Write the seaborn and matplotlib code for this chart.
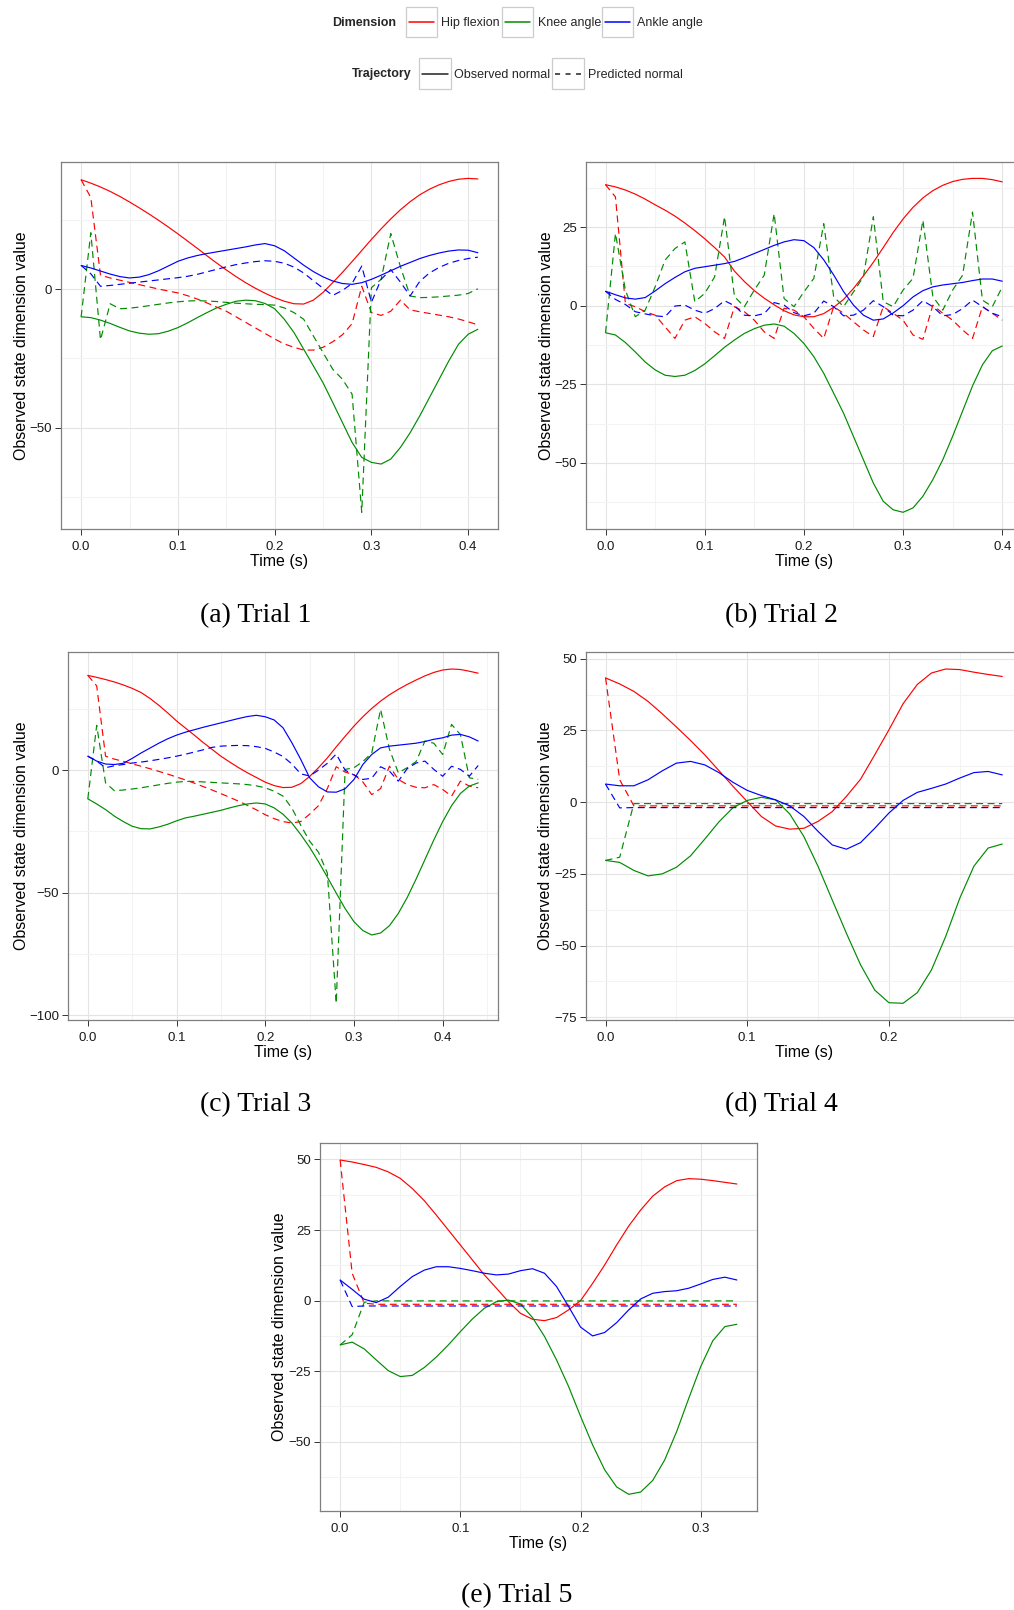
import matplotlib
matplotlib.use("Agg")
import matplotlib.pyplot as plt
from matplotlib.ticker import MultipleLocator, FormatStrFormatter
from matplotlib.patches import Rectangle
from matplotlib.lines import Line2D
import pandas as pd
import seaborn as sns

# ---------------------------------------------------------------------------
# Joint-angle trajectories (degrees), sampled every 10 ms
# ---------------------------------------------------------------------------
SAMPLE_DT = 0.01

# Trial 1
hip_obs_1 = [39.4, 38.2, 36.8, 35.2, 33.4, 31.4, 29.3, 27.1, 24.8, 22.4, 19.9, 17.3, 14.7, 12.0,
             9.4, 6.9, 4.5, 2.3, 0.3, -1.5, -3.1, -4.4, -5.3, -5.4, -4.0, -1.2, 2.3, 6.0, 9.9,
             13.9, 17.9, 21.7, 25.3, 28.6, 31.5, 34.0, 36.0, 37.6, 38.8, 39.6, 39.9, 39.7]
hip_pred_1 = [39.4, 33.0, 5.0, 4.0, 3.2, 2.4, 1.6, 0.8, 0.0, -0.7, -1.4, -2.4, -3.6, -5.0, -6.5,
              -8.0, -10.0, -12.0, -14.0, -16.0, -18.0, -19.8, -21.0, -22.0, -22.0, -21.0, -19.0,
              -16.5, -12.5, 1.0, -8.5, -9.5, -8.0, -4.0, -7.5, -8.2, -8.8, -9.4, -10.0, -10.8,
              -11.8, -12.9]
knee_obs_1 = [-10.0, -10.3, -11.2, -12.4, -13.8, -15.1, -15.9, -16.3, -16.1, -15.2, -13.9, -12.2,
              -10.3, -8.5, -6.8, -5.5, -4.4, -4.0, -4.2, -5.2, -7.1, -10.9, -15.7, -21.7, -27.7,
              -33.8, -40.9, -48.1, -55.3, -60.7, -62.5, -63.1, -61.3, -57.1, -51.8, -45.7, -39.1,
              -32.5, -25.9, -19.9, -16.3, -14.5]
knee_pred_1 = [-10.0, 20.3, -18.3, -5.3, -7.1, -6.9, -6.5, -6.0, -5.5, -5.0, -4.6, -4.3, -4.2, -4.3,
               -4.5, -4.8, -5.1, -5.3, -5.5, -5.6, -5.8, -6.8, -8.5, -10.9, -16.9, -22.9, -28.9,
               -32.5, -37.9, -80.5, 0.5, 3.5, 20.0, 8.0, -2.5, -3.1, -3.0, -2.8, -2.5, -2.2, -1.6, 0.1]
ankle_obs_1 = [8.5, 7.6, 6.5, 5.4, 4.5, 4.0, 4.3, 5.2, 6.6, 8.3, 10.0, 11.2, 12.1, 12.8, 13.4, 14.0,
               14.6, 15.2, 15.9, 16.4, 15.6, 13.8, 11.2, 8.6, 6.3, 4.4, 2.9, 2.0, 1.7, 2.3, 3.5, 5.0,
               6.6, 8.2, 9.6, 11.0, 12.1, 13.0, 13.7, 14.1, 14.0, 13.1]
ankle_pred_1 = [8.5, 5.5, 1.0, 1.3, 1.7, 2.1, 2.5, 2.9, 3.3, 3.7, 4.1, 4.6, 5.3, 6.2, 7.1, 8.0, 8.8,
                9.4, 9.9, 10.2, 10.0, 9.3, 7.9, 5.8, 3.0, 0.3, -2.3, -0.5, 2.0, 8.3, -4.8, 3.5, 7.0,
                2.5, -2.5, 2.8, 5.8, 7.8, 9.3, 10.3, 11.0, 11.5]

# Trial 2
hip_obs_2 = [38.5, 37.8, 36.8, 35.5, 33.9, 32.1, 30.4, 28.5, 26.3, 23.9, 21.3, 18.5, 15.5, 11.0,
             7.7, 4.8, 2.4, 0.3, -1.6, -2.9, -3.5, -3.5, -2.5, -0.5, 2.0, 5.5, 9.5, 13.8, 18.5,
             23.3, 27.6, 31.3, 34.3, 36.6, 38.3, 39.5, 40.2, 40.5, 40.5, 40.1, 39.4]
hip_pred_2 = [38.5, 34.6, 0.7, -0.3, -1.9, -3.0, -6.7, -10.4, -4.6, -3.5, -5.6, -8.3, -10.4, -0.3,
              -1.9, -4.6, -8.3, -10.4, -0.8, -1.4, -3.5, -7.2, -10.4, -0.3, -2.4, -5.1, -7.7, -9.8,
              -0.3, -2.4, -4.6, -9.3, -10.7, 0.2, -2.4, -4.6, -7.7, -10.4, -0.3, -2.4, -4.6]
knee_obs_2 = [-8.6, -9.3, -11.7, -14.7, -17.9, -20.4, -22.1, -22.5, -22.1, -20.6, -18.5, -15.9,
              -13.2, -10.9, -8.8, -7.3, -6.2, -5.8, -6.5, -8.8, -12.0, -16.2, -21.5, -27.8, -34.2,
              -41.6, -49.0, -56.4, -62.2, -64.9, -65.7, -64.3, -60.6, -55.3, -49.0, -41.5, -33.5,
              -25.5, -18.8, -14.3, -12.8]
knee_pred_2 = [-8.6, 23.0, 5.0, -3.5, -1.4, 6.0, 14.5, 18.2, 20.3, 1.3, 3.9, 9.2, 28.3, 2.9, -0.3,
               5.0, 9.7, 29.3, 2.3, -0.3, 4.4, 8.7, 26.1, 2.9, -0.3, 4.4, 9.2, 28.3, 1.3, -0.3, 5.0,
               8.7, 27.2, 2.9, -1.4, 5.0, 9.7, 29.8, 1.8, -0.3, 6.0]
ankle_obs_2 = [4.6, 3.5, 2.5, 2.1, 2.6, 4.7, 7.0, 9.0, 10.8, 11.9, 12.4, 12.9, 13.4, 14.1, 15.3,
               16.6, 17.9, 19.2, 20.3, 21.0, 20.7, 18.5, 14.6, 9.8, 4.5, 0.2, -3.0, -4.6, -4.2,
               -2.3, 0.0, 2.8, 4.8, 6.0, 6.6, 7.0, 7.4, 8.0, 8.5, 8.5, 7.8]
ankle_pred_2 = [4.6, 2.0, 0.4, -1.9, -2.6, -3.2, -3.5, -0.1, 0.2, -1.4, -2.4, -0.9, 1.6, 0.0, -3.0,
                -3.2, -2.5, 1.0, 0.2, -2.2, -3.2, -2.4, 1.5, -0.3, -3.2, -3.0, -1.4, 1.6, -0.3,
                -3.0, -3.2, -1.4, 1.6, -0.3, -3.2, -2.8, -0.9, 1.8, -0.3, -2.4, -3.5]

# Trial 3
hip_obs_3 = [38.7, 37.9, 37.0, 36.0, 34.8, 33.4, 31.7, 29.3, 26.5, 23.4, 20.1, 17.2, 14.3, 11.3,
             8.5, 5.7, 3.3, 1.0, -1.1, -3.0, -4.9, -6.3, -7.1, -7.0, -5.5, -2.6, 1.0, 5.0, 9.5,
             13.8, 18.0, 21.8, 25.2, 28.2, 30.8, 33.0, 35.0, 36.8, 38.5, 39.9, 40.9, 41.3, 41.1,
             40.4, 39.6]
hip_pred_3 = [38.7, 34.4, 5.7, 4.5, 3.6, 2.6, 1.6, 0.6, -0.5, -1.6, -2.8, -4.0, -5.3, -6.7, -8.1,
              -9.6, -11.1, -12.7, -14.4, -16.2, -18.2, -19.8, -21.0, -21.6, -21.0, -18.0, -14.5,
              -7.5, 1.4, -0.8, -1.8, -4.8, -10.0, -7.5, 1.6, -3.8, -5.9, -7.0, -7.2, -5.9, -7.9,
              -10.6, -4.5, -6.5, -7.2]
knee_obs_3 = [-11.7, -13.8, -16.1, -18.8, -21.0, -22.9, -23.9, -24.0, -23.2, -22.1, -20.7, -19.5,
              -18.8, -18.0, -17.2, -16.4, -15.4, -14.5, -13.8, -13.4, -13.8, -15.4, -18.0, -21.6,
              -26.3, -31.5, -37.4, -43.7, -50.2, -56.5, -61.9, -65.5, -67.3, -66.5, -63.5, -58.5,
              -52.0, -44.5, -36.5, -28.5, -21.0, -14.5, -9.5, -6.5, -5.2]
knee_pred_3 = [-11.7, 18.3, -5.2, -8.4, -8.1, -7.7, -7.2, -6.6, -6.0, -5.4, -4.9, -4.6, -4.6, -4.8,
               -5.0, -5.2, -5.4, -5.6, -5.9, -6.4, -7.2, -8.6, -10.6, -15.5, -22.5, -29.0, -33.5,
               -42.0, -95.2, 0.3, 1.0, 3.5, 7.0, 24.8, 8.5, -1.1, 1.0, 3.5, 11.9, 11.0, 6.4, 18.7,
               14.5, -3.1, -3.8]
ankle_obs_3 = [5.7, 3.7, 2.5, 2.3, 2.8, 4.8, 7.0, 9.0, 11.0, 12.8, 14.3, 15.5, 16.5, 17.5, 18.4,
               19.3, 20.2, 21.1, 21.9, 22.4, 21.8, 20.5, 17.3, 11.2, 4.4, -3.1, -6.8, -8.9, -9.0,
               -7.6, -3.8, 2.3, 6.4, 9.1, 9.8, 10.2, 10.6, 11.0, 11.7, 12.6, 13.2, 14.3, 14.6,
               13.6, 11.9]
ankle_pred_3 = [5.7, 3.7, 1.0, 1.8, 2.3, 2.9, 3.3, 3.8, 4.4, 5.0, 5.7, 6.5, 7.4, 8.3, 9.3, 9.8, 10.0,
                10.1, 10.0, 9.6, 8.9, 7.4, 5.6, 2.5, -1.5, -2.4, 0.0, 2.8, 6.6, 0.0, -2.0, -3.8,
                -3.3, 1.4, -0.4, -4.5, 0.6, 2.9, 3.7, 0.3, -2.5, 1.6, 0.3, -2.5, 1.9]

# Trial 4
hip_obs_4 = [43.3, 41.2, 38.6, 35.1, 30.8, 26.2, 21.5, 16.5, 11.0, 5.5, 0.2, -5.0, -8.3, -9.4,
             -9.1, -6.7, -3.3, 2.0, 8.0, 16.5, 25.2, 34.3, 41.0, 45.0, 46.4, 46.2, 45.3, 44.5, 43.8]
hip_pred_4 = [43.3, 7.8, -1.3, -1.3, -1.3, -1.3, -1.3, -1.3, -1.3, -1.3, -1.3, -1.3, -1.3, -1.3,
              -1.3, -1.3, -1.3, -1.3, -1.3, -1.3, -1.3, -1.3, -1.3, -1.3, -1.3, -1.3, -1.3, -1.3,
              -1.3]
knee_obs_4 = [-20.3, -21.0, -23.8, -25.7, -25.0, -22.7, -18.7, -12.9, -6.9, -1.9, 0.6, 1.7, 0.8,
              -4.1, -12.0, -22.4, -34.1, -45.7, -56.7, -65.5, -69.9, -70.1, -66.4, -58.5, -46.9,
              -33.5, -22.3, -16.0, -14.6]
knee_pred_4 = [-20.3, -19.2, -0.5, -0.5, -0.5, -0.5, -0.5, -0.5, -0.5, -0.5, -0.5, -0.5, -0.5,
               -0.5, -0.5, -0.5, -0.5, -0.5, -0.5, -0.5, -0.5, -0.5, -0.5, -0.5, -0.5, -0.5, -0.5,
               -0.5, -0.5]
ankle_obs_4 = [6.3, 5.7, 5.7, 7.8, 10.9, 13.6, 14.2, 13.0, 10.3, 6.9, 4.1, 2.3, 0.8, -1.3, -5.0,
               -10.2, -14.9, -16.4, -14.1, -9.1, -3.8, 0.6, 3.4, 4.8, 6.3, 8.4, 10.3, 10.7, 9.5]
ankle_pred_4 = [6.3, -2.0, -1.9, -1.9, -1.9, -1.9, -1.9, -1.9, -1.9, -1.9, -1.9, -1.9, -1.9, -1.9,
                -1.9, -1.9, -1.9, -1.9, -1.9, -1.9, -1.9, -1.9, -1.9, -1.9, -1.9, -1.9, -1.9, -1.9,
                -1.9]

# Trial 5
hip_obs_5 = [49.8, 49.1, 48.2, 47.2, 45.6, 43.3, 39.7, 35.4, 30.3, 25.0, 19.7, 14.4, 9.1, 4.4,
             -0.4, -4.5, -6.6, -7.1, -6.0, -3.3, 0.0, 6.1, 12.6, 19.7, 26.4, 32.1, 37.0, 40.3,
             42.5, 43.2, 43.0, 42.5, 41.9, 41.3]
hip_pred_5 = [49.8, 9.7, -0.9, -1.3, -1.3, -1.3, -1.3, -1.3, -1.3, -1.3, -1.3, -1.3, -1.3, -1.3,
              -1.3, -1.3, -1.3, -1.3, -1.3, -1.3, -1.3, -1.3, -1.3, -1.3, -1.3, -1.3, -1.3, -1.3,
              -1.3, -1.3, -1.3, -1.3, -1.3, -1.3]
knee_obs_5 = [-15.7, -14.7, -17.1, -21.0, -24.8, -26.9, -26.5, -23.7, -20.0, -15.7, -11.0, -6.5,
              -2.7, -0.4, 0.2, -1.2, -6.0, -12.7, -21.0, -30.4, -41.0, -51.1, -59.9, -66.0, -68.6,
              -67.8, -63.7, -56.4, -46.3, -34.6, -23.3, -14.2, -9.2, -8.4]
knee_pred_5 = [-15.7, -12.1, -0.6, -0.1, -0.1, -0.1, -0.1, -0.1, -0.1, -0.1, -0.1, -0.1, -0.1,
               -0.1, -0.1, -0.1, -0.1, -0.1, -0.1, -0.1, -0.1, -0.1, -0.1, -0.1, -0.1, -0.1, -0.1,
               -0.1, -0.1, -0.1, -0.1, -0.1, -0.1, -0.1]
ankle_obs_5 = [7.3, 4.0, 0.5, -0.7, 1.2, 5.0, 8.5, 10.8, 12.0, 12.0, 11.4, 10.6, 9.7, 9.1, 9.4,
               10.6, 11.3, 9.7, 5.0, -2.1, -9.4, -12.5, -11.3, -7.8, -3.3, 0.6, 2.6, 3.2, 3.5,
               4.4, 5.9, 7.5, 8.3, 7.3]
ankle_pred_5 = [7.3, -2.1, -1.9, -1.9, -1.9, -1.9, -1.9, -1.9, -1.9, -1.9, -1.9, -1.9, -1.9, -1.9,
                -1.9, -1.9, -1.9, -1.9, -1.9, -1.9, -1.9, -1.9, -1.9, -1.9, -1.9, -1.9, -1.9, -1.9,
                -1.9, -1.9, -1.9, -1.9, -1.9, -1.9]

CAPTIONS = ["(a) Trial 1", "(b) Trial 2", "(c) Trial 3", "(d) Trial 4", "(e) Trial 5"]
DIMENSIONS = ["Hip flexion", "Knee angle", "Ankle angle"]
TRAJECTORIES = ["Observed normal", "Predicted normal"]

TRIAL_SERIES = [
    [hip_obs_1, hip_pred_1, knee_obs_1, knee_pred_1, ankle_obs_1, ankle_pred_1],
    [hip_obs_2, hip_pred_2, knee_obs_2, knee_pred_2, ankle_obs_2, ankle_pred_2],
    [hip_obs_3, hip_pred_3, knee_obs_3, knee_pred_3, ankle_obs_3, ankle_pred_3],
    [hip_obs_4, hip_pred_4, knee_obs_4, knee_pred_4, ankle_obs_4, ankle_pred_4],
    [hip_obs_5, hip_pred_5, knee_obs_5, knee_pred_5, ankle_obs_5, ankle_pred_5],
]

# ---------------------------------------------------------------------------
# Styling
# ---------------------------------------------------------------------------
sns.set_style("white")
plt.rcParams["font.family"] = ["Liberation Sans", "DejaVu Sans"]
plt.rcParams["axes.unicode_minus"] = True

PALETTE = {"Hip flexion": "#FF0000", "Knee angle": "#008B00", "Ankle angle": "#0000FF"}
LINE_W = 0.85
DASHES = {"Observed normal": "", "Predicted normal": (5.9, 3.8)}

W, H = 1014, 1610
fig = plt.figure(figsize=(W / 100, H / 100), dpi=100)
fig.patch.set_facecolor("white")


def fx(x):
    return x / W


def fy(y):
    return 1 - y / H


# panel boxes in pixels: left, top, right, bottom
PANEL_BOX = [(61.3, 161.7, 497.7, 529.0), (585.7, 161.7, 1022.1, 529.0),
             (68.3, 652.3, 497.7, 1020.0), (585.7, 652.3, 1022.1, 1020.0),
             (320.3, 1143.3, 756.7, 1511.0)]
Y_STEP = [50, 25, 50, 25, 25]
YLABEL_GAP = [40.1, 39.5, 47.1, 40.2, 40.6]
CAPTION_XY = [(255.5, 616), (781.5, 616), (256.0, 1105), (781.5, 1105), (517.0, 1596)]


def trial_frame(series):
    rows = []
    for k, values in enumerate(series):
        dim = DIMENSIONS[k // 2]
        traj = TRAJECTORIES[k % 2]
        for i, v in enumerate(values):
            rows.append((round(i * SAMPLE_DT, 2), v, dim, traj))
    return pd.DataFrame(rows, columns=["Time", "value", "Dimension", "Trajectory"])


for idx, series in enumerate(TRIAL_SERIES):
    left, top, right, bottom = PANEL_BOX[idx]
    wpx, hpx = right - left, bottom - top
    ax = fig.add_axes([fx(left), fy(bottom), wpx / W, hpx / H])
    df = trial_frame(series)
    sns.lineplot(data=df, x="Time", y="value", hue="Dimension", style="Trajectory",
                 hue_order=DIMENSIONS, style_order=TRAJECTORIES, palette=PALETTE,
                 dashes=DASHES, estimator=None, sort=False, legend=False,
                 linewidth=LINE_W, ax=ax)
    ax.margins(x=0.05, y=0.05)

    ax.set_facecolor("white")
    for sp in ax.spines.values():
        sp.set_visible(True)
        sp.set_color("#7F7F7F")
        sp.set_linewidth(0.9)
    ax.xaxis.set_major_locator(MultipleLocator(0.1))
    ax.xaxis.set_minor_locator(MultipleLocator(0.05))
    ax.xaxis.set_major_formatter(FormatStrFormatter("%.1f"))
    ax.yaxis.set_major_locator(MultipleLocator(Y_STEP[idx]))
    ax.yaxis.set_minor_locator(MultipleLocator(Y_STEP[idx] / 2))
    ax.grid(which="major", color="#E4E4E4", linewidth=0.8)
    ax.grid(which="minor", color="#F3F3F3", linewidth=0.8)
    ax.set_axisbelow(True)
    ax.tick_params(which="major", direction="out", length=4, width=0.7, color="#333333",
                   labelsize=9.5, labelcolor="#1A1A1A", pad=2.5,
                   bottom=True, left=True, top=False, right=False)
    ax.tick_params(axis="x", which="major", pad=4.5)
    ax.tick_params(which="minor", length=0)

    ax.set_xlabel("Time (s)", fontsize=11.5, color="black", va="center")
    ax.xaxis.set_label_coords(0.5, -32.5 / hpx)
    ax.set_ylabel("Observed state dimension value", fontsize=11.5, color="black", va="center")
    ax.yaxis.set_label_coords(-YLABEL_GAP[idx] / wpx, 0.5)

    cx, cy = CAPTION_XY[idx]
    fig.text(fx(cx), fy(cy), CAPTIONS[idx], ha="center", va="center", fontsize=20,
             family=["Liberation Serif", "DejaVu Serif"], color="black")

# ---------------------------------------------------------------------------
# Legends (drawn at figure level, above the panels)
# ---------------------------------------------------------------------------
KEY_EDGE = "#CCCCCC"


def key_box(x, y, w, h, color, dashed=False):
    fig.patches.append(Rectangle((fx(x), fy(y + h)), w / W, h / H, transform=fig.transFigure,
                                 facecolor="white", edgecolor=KEY_EDGE, linewidth=0.9))
    ln = Line2D([fx(x + 3), fx(x + w - 3)], [fy(y + h / 2), fy(y + h / 2)],
                transform=fig.transFigure, color=color, linewidth=1.1)
    if dashed:
        ln.set_dashes((3.3, 3.6))
    fig.lines.append(ln)


row1_y, row2_y = 23.0, 74.5
fig.text(fx(331.7), fy(row1_y), "Dimension", fontsize=9, fontweight="bold",
         ha="left", va="center")
for bx, lx, dim in zip([405.7, 502.0, 602.0], [440.7, 537.7, 637.0], DIMENSIONS):
    key_box(bx, 6.7, 31.0, 30.6, PALETTE[dim])
    fig.text(fx(lx), fy(row1_y), dim, fontsize=9, ha="left", va="center")

fig.text(fx(352.0), fy(row2_y), "Trajectory", fontsize=9, fontweight="bold",
         ha="left", va="center")
for bx, lx, traj, dashed in zip([419.0, 552.3], [454.0, 587.7], TRAJECTORIES, [False, True]):
    key_box(bx, 58.3, 31.7, 31.0, "#222222", dashed=dashed)
    fig.text(fx(lx), fy(row2_y), traj, fontsize=9, ha="left", va="center")

fig.savefig("out.png", dpi=100, facecolor="white")
